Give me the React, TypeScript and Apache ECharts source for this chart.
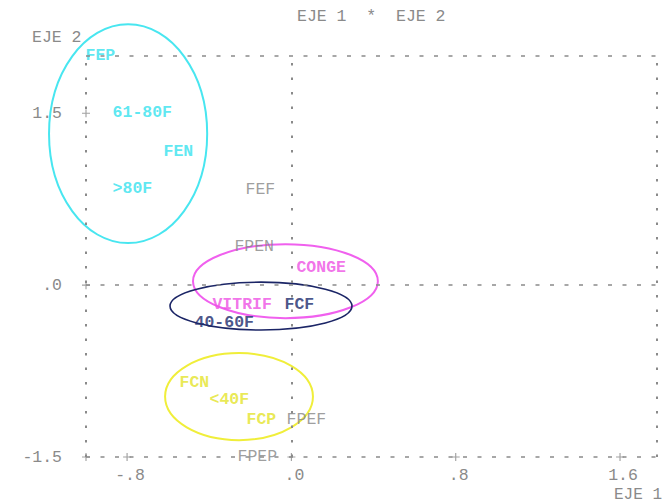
import React, { useEffect, useRef } from "react";
import * as echarts from "echarts";

// Axis ranges
const X_MIN = -1.0;
const X_MAX = 1.78;
const Y_MIN = -1.5;
const Y_MAX = 2.0;

// Tick values and labels
const xTickValues = [-0.8, 0, 0.8, 1.6];
const xTickLabels = ["-.8", ".0", ".8", "1.6"];
const yTickValues = [-1.5, 0, 1.5];
const yTickLabels = ["-1.5", ".0", "1.5"];

// Plotted categories (label anchored at its point)
const pointNames = ["FEP", "61-80F", "FEN", ">80F", "FEF", "FPEN", "CONGE", "VITRIF", "FCF", "40-60F", "FCN", "<40F", "FCP", "FPEF", "FPEP"];
const pointX = [-1.0, -0.868, -0.62, -0.868, -0.221, -0.275, 0.027, -0.382, -0.031, -0.469, -0.542, -0.396, -0.216, -0.021, -0.26];
const pointY = [2.0, 1.5, 1.16, 0.84, 0.83, 0.33, 0.15, -0.17, -0.17, -0.33, -0.85, -1.0, -1.18, -1.18, -1.5];
const pointGroup = ["cyan", "cyan", "cyan", "cyan", "gray", "gray", "magenta", "magenta", "navy", "navy", "yellow", "yellow", "yellow", "gray", "gray"];

// Group ellipses (center and radii in data units)
const ellipseGroup = ["cyan", "magenta", "navy", "yellow"];
const ellipseCx = [-0.795, -0.029, -0.148, -0.255];
const ellipseCy = [1.322, 0.035, -0.183, -0.973];
const ellipseRx = [0.385, 0.45, 0.443, 0.36];
const ellipseRy = [0.955, 0.323, 0.209, 0.38];

const textColor: Record<string, string> = {
  gray: "#858585",
  cyan: "#34e2ee",
  magenta: "#ee50e4",
  yellow: "#e4e42a",
  navy: "#1b2a6b",
};
const ringColor: Record<string, string> = {
  cyan: "#48e6f0",
  magenta: "#f060ee",
  yellow: "#f0ee3a",
  navy: "#1b2566",
};

const FONT = "'Liberation Mono', 'Courier New', monospace";
const AXIS_GRAY = "#8a8a8a";

export default function App() {
  const ref = useRef<HTMLDivElement>(null);

  useEffect(() => {
    if (!ref.current) return;
    const chart = echarts.init(ref.current, null, { renderer: "svg" });

    const hLine = { type: [4, 10.5], width: 1.5, color: AXIS_GRAY };
    const vLine = { type: [2.5, 12], width: 2, color: AXIS_GRAY };

    const tickData: number[][] = [];
    yTickValues.forEach((v) => tickData.push([X_MIN, v]));
    xTickValues.forEach((v) => tickData.push([v, Y_MIN]));

    const labelData = pointNames.map((n, i) => ({
      name: n,
      value: [pointX[i], pointY[i]],
      label: {
        color: textColor[pointGroup[i]],
        fontWeight: pointGroup[i] === "gray" ? "normal" : "bold",
      },
    }));

    const ellipseData = ellipseGroup.map((g, i) => ({
      name: g,
      value: [ellipseCx[i], ellipseCy[i], ellipseRx[i], ellipseRy[i]],
    }));

    const fmt = (vals: number[], labs: string[]) => (v: number) => {
      const idx = vals.findIndex((t) => Math.abs(t - v) < 1e-6);
      return idx >= 0 ? labs[idx] : "";
    };

    chart.setOption({
      animation: false,
      backgroundColor: "#ffffff",
      grid: { left: 86, right: 8, top: 56, bottom: 46 },
      xAxis: {
        type: "value",
        min: X_MIN,
        max: X_MAX,
        axisLine: { show: false },
        axisTick: { show: false },
        splitLine: { show: false },
        axisLabel: {
          customValues: xTickValues,
          formatter: fmt(xTickValues, xTickLabels),
          color: AXIS_GRAY,
          fontFamily: FONT,
          fontSize: 16.5,
          margin: 10,
          padding: [0, 0, 0, 6],
        },
      },
      yAxis: {
        type: "value",
        min: Y_MIN,
        max: Y_MAX,
        axisLine: { show: false },
        axisTick: { show: false },
        splitLine: { show: false },
        axisLabel: {
          customValues: yTickValues,
          formatter: fmt(yTickValues, yTickLabels),
          color: AXIS_GRAY,
          fontFamily: FONT,
          fontSize: 16.5,
          margin: 24,
        },
      },
      graphic: [
        {
          type: "text",
          left: 297,
          top: 8,
          style: { text: "EJE 1  *  EJE 2", fill: AXIS_GRAY, font: `16.5px ${FONT}` },
        },
        {
          type: "text",
          left: 32,
          top: 29,
          style: { text: "EJE 2", fill: AXIS_GRAY, font: `16.5px ${FONT}` },
        },
        {
          type: "text",
          left: 614,
          top: 487,
          style: { text: "EJE 1", fill: AXIS_GRAY, font: `16px ${FONT}` },
        },
      ],
      series: [
        {
          name: "frame",
          type: "scatter",
          data: tickData,
          symbol: "path://M3,0H4V3H7V4H4V7H3V4H0V3H3Z",
          symbolSize: 8,
          itemStyle: { color: AXIS_GRAY },
          silent: true,
          z: 1,
          markLine: {
            silent: true,
            symbol: ["none", "none"],
            label: { show: false },
            animation: false,
            data: [
              { yAxis: 0, lineStyle: hLine },
              { yAxis: Y_MAX, lineStyle: hLine },
              { yAxis: Y_MIN, lineStyle: hLine },
              { xAxis: X_MIN, lineStyle: vLine },
              { xAxis: 0, lineStyle: vLine },
              { xAxis: X_MAX, lineStyle: vLine },
            ],
          },
        },
        {
          name: "ellipses",
          type: "custom",
          clip: false,
          silent: true,
          z: 3,
          data: ellipseData,
          renderItem: (params: any, api: any) => {
            const c = api.coord([api.value(0), api.value(1)]);
            const s = api.size([api.value(2), api.value(3)]);
            const g = ellipseGroup[params.dataIndex];
            return {
              type: "ellipse",
              shape: { cx: c[0], cy: c[1], rx: s[0], ry: s[1] },
              style: {
                fill: "none",
                stroke: ringColor[g],
                lineWidth: g === "navy" ? 1.6 : 2,
              },
            };
          },
        },
        {
          name: "labels",
          type: "scatter",
          clip: false,
          silent: true,
          z: 4,
          symbolSize: 1,
          itemStyle: { color: "rgba(0,0,0,0)" },
          data: labelData,
          label: {
            show: true,
            position: [0, 0],
            align: "left",
            verticalAlign: "middle",
            formatter: "{b}",
            fontFamily: FONT,
            fontSize: 16.5,
          },
        },
      ],
    });

    return () => chart.dispose();
  }, []);

  return <div ref={ref} style={{ width: 665, height: 503, position: "absolute", left: 0, top: 0 }} />;
}
